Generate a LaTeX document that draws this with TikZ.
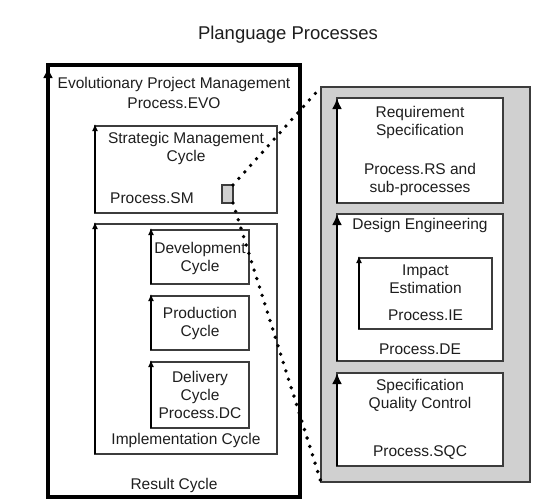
\documentclass[tikz,border=0pt]{standalone}
\usepackage{fontspec}
\setmainfont{Liberation Sans}
\usetikzlibrary{arrows.meta}
\definecolor{panelgray}{RGB}{208,208,208}
\definecolor{edgecol}{RGB}{60,60,60}
\definecolor{ink}{RGB}{30,30,30}
\begin{document}
\begin{tikzpicture}[x=1pt,y=-1pt,
  box/.style={draw=edgecol, line width=1.1pt, fill=white, inner sep=0pt, outer sep=0pt, anchor=north west},
  lbl/.style={text=ink, font=\fontsize{15.5}{18}\selectfont, align=center, inner sep=0pt},
  thinarrow/.style={draw=black, line width=1.1pt, -{Latex[length=7pt,width=6pt]}},
  thickarrow/.style={draw=black, line width=2.6pt, -{Latex[length=11pt,width=10pt]}},
  dotline/.style={draw=black, line width=3.8pt, line cap=round, dash pattern=on 0pt off 8.8pt}
]
\useasboundingbox[fill=white] (0,0) rectangle (548,499);

\node[lbl, font=\fontsize{18.5}{22}\selectfont] (title) at (288,35) {Planguage Processes};

% left: result cycle
\node[box, draw=black, line width=4pt, minimum width=252pt, minimum height=432pt] (rc) at (48,65) {};
\node[lbl] (evo) at (174,93) {Evolutionary Project Management\\[2pt]Process.EVO};
\node[lbl] (result) at (174,485) {Result Cycle};

\node[box, minimum width=182pt, minimum height=87pt] (sm) at (95,126) {};
\node[lbl] (smt) at (186,148.5) {Strategic Management\\Cycle};
\node[lbl, anchor=west] (smp) at (110,198) {Process.SM};
\node[box, fill=panelgray, minimum width=11pt, minimum height=18pt] (smr) at (222,185) {};

\node[box, minimum width=182pt, minimum height=230pt] (impl) at (95,224) {};
\node[lbl] (implt) at (186,440) {Implementation Cycle};

\node[box, minimum width=98pt, minimum height=54pt] (dev) at (151,230) {};
\node[lbl] (devt) at (200,258) {Development\\Cycle};
\node[box, minimum width=98pt, minimum height=54pt] (prod) at (151,296) {};
\node[lbl] (prodt) at (200,323.5) {Production\\Cycle};
\node[box, minimum width=98pt, minimum height=66pt] (deliv) at (151,362) {};
\node[lbl] (delivt) at (200,395) {Delivery\\Cycle\\Process.DC};

% right panel
\node[box, fill=panelgray, minimum width=209pt, minimum height=395pt] (grp) at (321,87) {};
\node[box, minimum width=166pt, minimum height=105pt] (rs) at (337,98) {};
\node[lbl] (rst1) at (420,122) {Requirement\\Specification};
\node[lbl] (rst2) at (420,179.5) {Process.RS and\\sub-processes};

\node[box, minimum width=166pt, minimum height=147pt] (de) at (337,214) {};
\node[lbl] (det1) at (420,225) {Design Engineering};
\node[lbl] (det2) at (420,349) {Process.DE};
\node[box, minimum width=133pt, minimum height=71pt] (ie) at (359,258) {};
\node[lbl] (iet1) at (425.5,279.5) {Impact\\Estimation};
\node[lbl] (iet2) at (425.5,315) {Process.IE};

\node[box, minimum width=166pt, minimum height=93pt] (sqc) at (337,373) {};
\node[lbl] (sqct1) at (420,395.5) {Specification\\Quality Control};
\node[lbl] (sqct2) at (420,453) {Process.SQC};

% cycle arrows
\draw[line width=4pt, -{Latex[length=11pt,width=10pt]}] (rc.south west) -- ([yshift=-2pt]rc.north west);
\draw[thinarrow] (sm.south west) -- ([yshift=2pt]sm.north west);
\draw[thinarrow] (impl.south west) -- ([yshift=2pt]impl.north west);
\draw[thinarrow] (dev.south west) -- ([yshift=2pt]dev.north west);
\draw[thinarrow] (prod.south west) -- ([yshift=2pt]prod.north west);
\draw[thinarrow] (deliv.south west) -- ([yshift=2pt]deliv.north west);
\draw[thinarrow] (ie.south west) -- ([yshift=2pt]ie.north west);
\draw[thickarrow] (rs.south west) -- (rs.north west);
\draw[thickarrow] (de.south west) -- (de.north west);
\draw[thickarrow] (sqc.south west) -- (sqc.north west);

% zoom connectors
\draw[dotline] (smr.north east) -- (grp.north west);
\draw[dotline] (smr.south east) -- (grp.south west);
\end{tikzpicture}
\end{document}
